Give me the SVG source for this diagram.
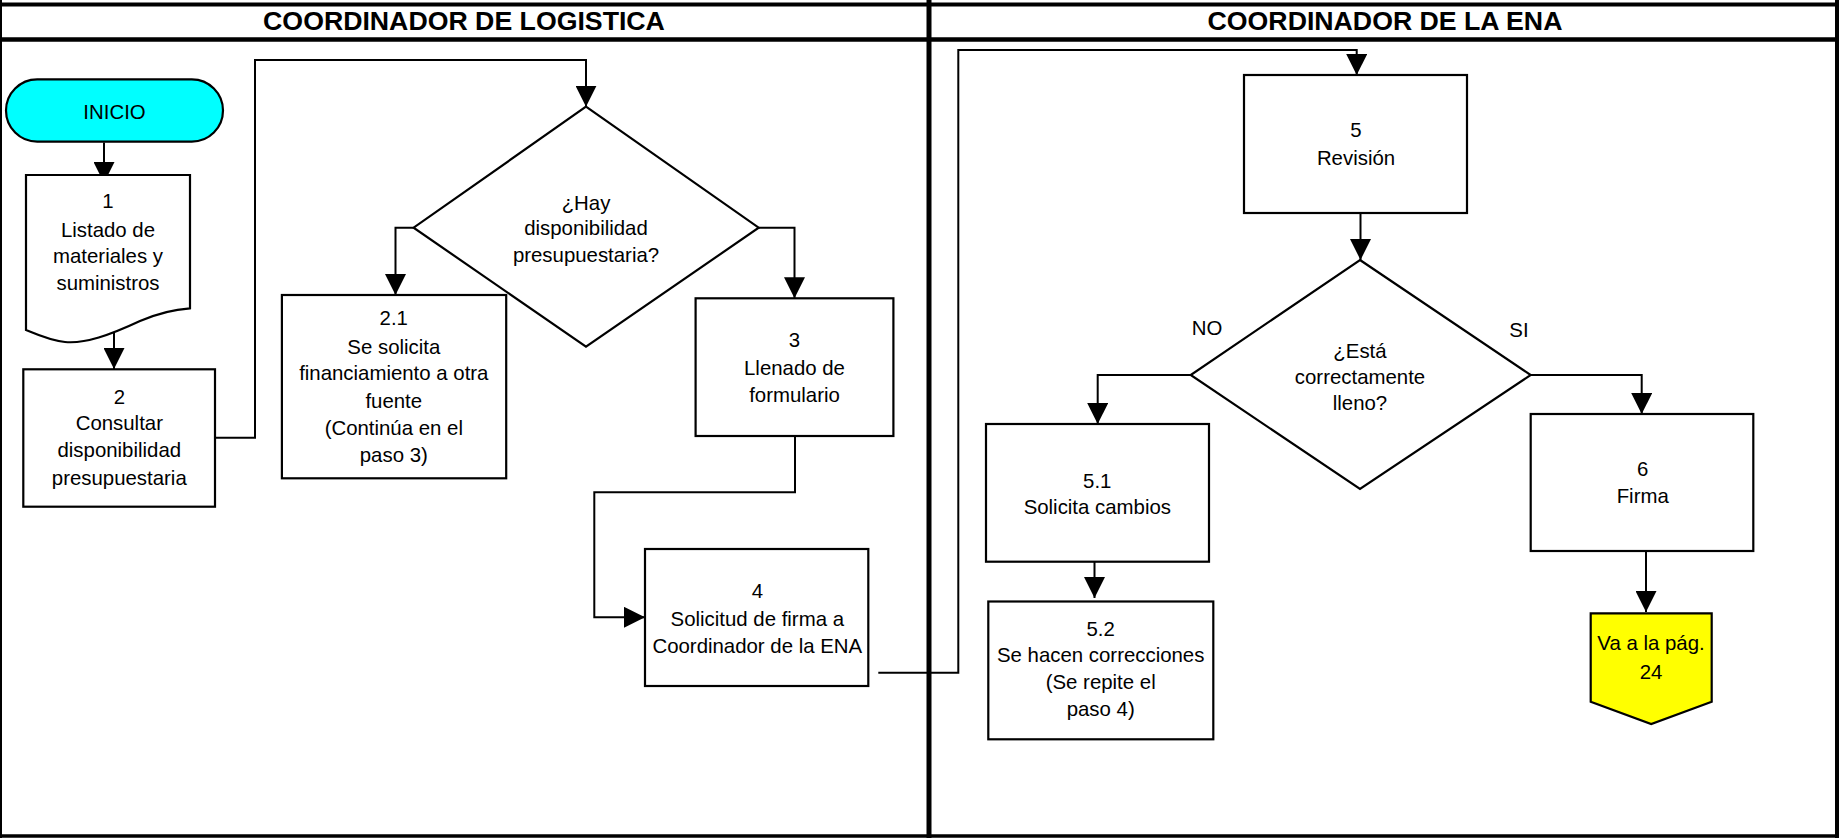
<svg xmlns="http://www.w3.org/2000/svg" width="1839" height="838" viewBox="0 0 1839 838">
  <style>
    .shape { fill: #ffffff; stroke: #000000; stroke-width: 2.2; }
    .start { fill: #00ffff; stroke: #000000; stroke-width: 2.2; }
    .offpage { fill: #ffff00; stroke: #000000; stroke-width: 2.2; }
    .lbl { font-family: "Liberation Sans", Arial, sans-serif; font-size: 20.4px; fill: #000000; text-anchor: middle; }
    .head { font-family: "Liberation Sans", Arial, sans-serif; font-size: 26.7px; font-weight: bold; fill: #000000; text-anchor: middle; }
    .link { fill: none; stroke: #000000; stroke-width: 2; marker-end: url(#arrow); }
    .frame { stroke: #000000; fill: none; }
  </style>
  <defs>
    <marker id="arrow" markerUnits="userSpaceOnUse" markerWidth="21" markerHeight="21" refX="21" refY="10.5" orient="auto" viewBox="0 0 21 21">
      <path d="M0,0 L21,10.5 L0,21 Z" fill="#000000"/>
    </marker>
  </defs>

  <rect x="0" y="0" width="1839" height="838" fill="#ffffff"/>

  <!-- swimlane frame -->
  <g id="lanes">
    <line class="frame" x1="0" y1="4.5" x2="1839" y2="4.5" stroke-width="4"/>
    <line class="frame" x1="0" y1="39.5" x2="1839" y2="39.5" stroke-width="4.5"/>
    <line class="frame" x1="1" y1="0" x2="1" y2="838" stroke-width="2"/>
    <line class="frame" x1="929" y1="0" x2="929" y2="838" stroke-width="5"/>
    <line class="frame" x1="1837" y1="0" x2="1837" y2="838" stroke-width="4"/>
    <line class="frame" x1="0" y1="836" x2="1839" y2="836" stroke-width="3.5"/>
    <text class="head" x="464" y="30">COORDINADOR DE LOGISTICA</text>
    <text class="head" x="1385" y="30">COORDINADOR DE LA ENA</text>
  </g>

  <!-- connectors -->
  <g id="connectors">
    <path class="link" d="M104,142.5 V183"/>
    <path class="link" d="M114,329 V369"/>
    <path class="link" d="M215,437.7 H255 V60 H586 V106.7"/>
    <path class="link" d="M413.6,227.7 H395.5 V295"/>
    <path class="link" d="M758.7,227.7 H794.5 V298.3"/>
    <path class="link" d="M795,436 V492.3 H594.3 V617.3 H645"/>
    <path class="link" d="M878.3,672.7 H958.3 V50 H1356.7 V75"/>
    <path class="link" d="M1360.5,213 V260"/>
    <path class="link" d="M1190.7,375 H1097.7 V424"/>
    <path class="link" d="M1094.5,561.7 V598"/>
    <path class="link" d="M1530.7,375 H1641.7 V414"/>
    <path class="link" d="M1646,551 V612"/>
    <text class="lbl" x="1207" y="335">NO</text>
    <text class="lbl" x="1519" y="337">SI</text>
  </g>

  <g id="inicio">
    <rect class="start" x="6" y="79.3" width="217" height="62.4" rx="31.2" ry="31.2"/>
    <text class="lbl" x="114.5" y="119">INICIO</text>
  </g>

  <g id="paso1">
    <path class="shape" d="M26,175 H190 V308.3 C172,309.5 156,314 140,321 C110,335 85,344 65,342 C50,340.5 38,335 26,330 Z"/>
    <text class="lbl" x="108" y="208">1</text>
    <text class="lbl" x="108" y="237">Listado de</text>
    <text class="lbl" x="108" y="263">materiales y</text>
    <text class="lbl" x="108" y="290">suministros</text>
  </g>

  <g id="paso2">
    <rect class="shape" x="23.3" y="369.3" width="191.7" height="137.4"/>
    <text class="lbl" x="119.3" y="404">2</text>
    <text class="lbl" x="119.3" y="430">Consultar</text>
    <text class="lbl" x="119.3" y="457">disponibilidad</text>
    <text class="lbl" x="119.3" y="485">presupuestaria</text>
  </g>

  <g id="decision1">
    <polygon class="shape" points="586,106.7 758.7,227.7 586,346.7 413.6,227.7"/>
    <text class="lbl" x="586" y="210">¿Hay</text>
    <text class="lbl" x="586" y="235">disponibilidad</text>
    <text class="lbl" x="586" y="262">presupuestaria?</text>
  </g>

  <g id="paso2-1">
    <rect class="shape" x="281.9" y="295" width="224.3" height="183.3"/>
    <text class="lbl" x="393.8" y="325">2.1</text>
    <text class="lbl" x="393.8" y="354">Se solicita</text>
    <text class="lbl" x="393.8" y="380">financiamiento a otra</text>
    <text class="lbl" x="393.8" y="408">fuente</text>
    <text class="lbl" x="393.8" y="435">(Continúa en el</text>
    <text class="lbl" x="393.8" y="462">paso 3)</text>
  </g>

  <g id="paso3">
    <rect class="shape" x="695.6" y="298.3" width="197.8" height="137.7"/>
    <text class="lbl" x="794.5" y="347">3</text>
    <text class="lbl" x="794.5" y="375">Llenado de</text>
    <text class="lbl" x="794.5" y="402">formulario</text>
  </g>

  <g id="paso4">
    <rect class="shape" x="645" y="549" width="223.3" height="137"/>
    <text class="lbl" x="757.3" y="598">4</text>
    <text class="lbl" x="757.3" y="626">Solicitud de firma a</text>
    <text class="lbl" x="757.3" y="653">Coordinador de la ENA</text>
  </g>

  <g id="paso5">
    <rect class="shape" x="1244" y="75" width="223" height="138"/>
    <text class="lbl" x="1356" y="137">5</text>
    <text class="lbl" x="1356" y="165">Revisión</text>
  </g>

  <g id="decision2">
    <polygon class="shape" points="1360,260 1530.7,375 1360,489 1190.7,375"/>
    <text class="lbl" x="1360" y="358">¿Está</text>
    <text class="lbl" x="1360" y="384">correctamente</text>
    <text class="lbl" x="1360" y="410">lleno?</text>
  </g>

  <g id="paso5-1">
    <rect class="shape" x="986" y="424" width="223" height="137.7"/>
    <text class="lbl" x="1097.3" y="488">5.1</text>
    <text class="lbl" x="1097.3" y="514">Solicita cambios</text>
  </g>

  <g id="paso5-2">
    <rect class="shape" x="988.3" y="601.5" width="225" height="137.8"/>
    <text class="lbl" x="1100.7" y="636">5.2</text>
    <text class="lbl" x="1100.7" y="662">Se hacen correcciones</text>
    <text class="lbl" x="1100.7" y="689">(Se repite el</text>
    <text class="lbl" x="1100.7" y="716">paso 4)</text>
  </g>

  <g id="paso6">
    <rect class="shape" x="1530.7" y="414" width="222.6" height="137"/>
    <text class="lbl" x="1642.7" y="476">6</text>
    <text class="lbl" x="1642.7" y="503">Firma</text>
  </g>

  <g id="conector-pag24">
    <polygon class="offpage" points="1590.7,613.3 1711.7,613.3 1711.7,701.7 1651.2,724 1590.7,701.7"/>
    <text class="lbl" x="1651" y="650">Va a la pág.</text>
    <text class="lbl" x="1651" y="679">24</text>
  </g>
</svg>
